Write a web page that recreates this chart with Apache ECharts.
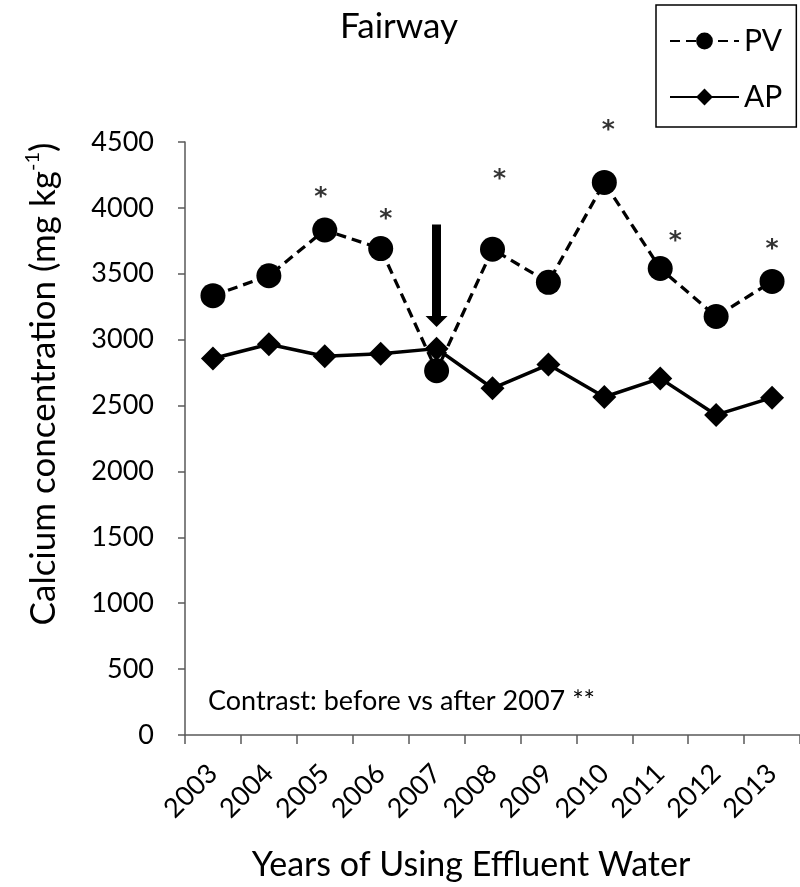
<!DOCTYPE html>
<html>
<head>
<meta charset="utf-8">
<title>Fairway</title>
<script src="https://cdn.jsdelivr.net/npm/echarts@6/dist/echarts.min.js"></script>
<style>
  html, body { margin: 0; padding: 0; background: #ffffff; }
  #chart { width: 800px; height: 887px; }
</style>
</head>
<body>
<div id="chart"></div>
<script>
// Calcium concentration in fairway soil, by year of effluent-water use
const years = ['2003','2004','2005','2006','2007','2008','2009','2010','2011','2012','2013'];
const pvValues = [3334, 3485, 3832, 3691, 2764, 3686, 3435, 4193, 3540, 3176, 3442];
const apValues = [2857, 2965, 2874, 2894, 2932, 2631, 2811, 2565, 2706, 2429, 2560];
const yTicks = [0, 500, 1000, 1500, 2000, 2500, 3000, 3500, 4000, 4500];

// Significance markers (*) above PV: year and height in mg/kg
const starYears = ['2005', '2006', '2008', '2010', '2011', '2013'];
const starHeights = [4118, 3950, 4256, 4629, 3781, 3719];

// Start of effluent use: arrow from top value down to tip value at 2007
const arrowYear = '2007';
const arrowTop = 3874;
const arrowTip = 3096;

const FONT = 'Lato, "Open Sans", sans-serif';
const chart = echarts.init(document.getElementById('chart'), null, { renderer: 'canvas' });

// head is centred on the end point, so stop the line half a head short of the tip
const pxPerUnit = 597 / (yTicks[yTicks.length - 1] - yTicks[0]);
const headLen = 11;
const arrowEnd = arrowTip + (headLen / 2) / pxPerUnit;

// the asterisk glyph sits high in its line box, so nudge it down a little
const starOffsets = { '2005': [-4, 5], '2006': [5, 5], '2008': [7, 5], '2010': [4, 5], '2011': [15, 5], '2013': [0, 5] };

const option = {
  animation: false,
  backgroundColor: '#ffffff',
  title: {
    text: 'Fairway',
    left: 394,
    top: 4,
    textAlign: 'center',
    textStyle: { fontFamily: FONT, fontSize: 35, fontWeight: 'normal', color: '#000' }
  },
  legend: {
    data: ['PV', 'AP'],
    orient: 'vertical',
    left: 656,
    top: 5,
    padding: [21, 14, 15, 13],
    itemGap: 26,
    itemWidth: 69,
    itemHeight: 21,
    borderColor: '#000',
    borderWidth: 1.5,
    textStyle: { fontFamily: FONT, fontSize: 30, color: '#000', lineHeight: 30 }
  },
  grid: { left: 185, top: 142, width: 616, height: 597, containLabel: false },
  xAxis: {
    type: 'category',
    data: years,
    boundaryGap: true,
    name: 'Years of Using Effluent Water',
    nameLocation: 'middle',
    nameGap: 113,
    nameTextStyle: { fontFamily: FONT, fontSize: 34, color: '#000', padding: [0, 43, 0, 0] },
    axisLine: { lineStyle: { color: '#595959', width: 1.5 } },
    axisTick: { show: true, inside: false, length: 9, alignWithLabel: false, lineStyle: { color: '#595959', width: 1.5 } },
    axisLabel: {
      interval: 0, rotate: 45, margin: 34,
      padding: [43, 0, 0, 0],
      fontFamily: FONT, fontSize: 27, color: '#000'
    },
    splitLine: { show: false }
  },
  yAxis: {
    type: 'value',
    min: yTicks[0],
    max: yTicks[yTicks.length - 1],
    interval: yTicks[1] - yTicks[0],
    axisLine: { show: true, lineStyle: { color: '#595959', width: 1.5 } },
    axisTick: { show: true, inside: false, length: 7, lineStyle: { color: '#595959', width: 1.5 } },
    axisLabel: {
      margin: 31, fontFamily: FONT, fontSize: 27, color: '#000',
      formatter: v => String(v)
    },
    splitLine: { show: false }
  },
  graphic: [
    {
      type: 'text',
      x: 42,
      y: 384,
      rotation: Math.PI / 2,
      style: {
        text: '{t|Calcium concentration (mg kg}{s|-1}{t|)}',
        rich: {
          t: { fontFamily: FONT, fontSize: 35, fill: '#000', verticalAlign: 'bottom' },
          s: { fontFamily: FONT, fontSize: 20, fill: '#000', verticalAlign: 'top', padding: [0, 0, 18, 0] }
        },
        align: 'center',
        verticalAlign: 'middle'
      }
    },
    {
      type: 'text',
      left: 208,
      top: 688,
      style: {
        text: 'Contrast: before vs after 2007 **',
        fontFamily: FONT, fontSize: 27, fill: '#000'
      }
    }
  ],
  series: [
    {
      name: 'PV',
      type: 'line',
      data: pvValues,
      symbol: 'circle',
      symbolSize: 25,
      itemStyle: { color: '#000' },
      lineStyle: { color: '#000', width: 3.3, type: [10, 6] },
      z: 3,
      markLine: {
        silent: true,
        symbol: ['none', 'triangle'],
        label: { show: false },
        lineStyle: { color: '#000', width: 9, type: 'solid' },
        data: [[
          { coord: [arrowYear, arrowTop], symbol: 'none' },
          { coord: [arrowYear, arrowEnd], symbol: 'triangle', symbolSize: [22, headLen] }
        ]]
      }
    },
    {
      name: 'AP',
      type: 'line',
      data: apValues,
      symbol: 'diamond',
      symbolSize: 24,
      itemStyle: { color: '#000' },
      lineStyle: { color: '#000', width: 3.5, type: 'solid' },
      z: 4
    },
    {
      name: 'significance',
      type: 'scatter',
      clip: false,
      silent: true,
      symbolSize: 1,
      itemStyle: { color: 'rgba(0,0,0,0)' },
      data: starYears.map((y, i) => ({
        value: [y, starHeights[i]],
        label: { offset: starOffsets[y] || [0, 0] }
      })),
      label: {
        show: true,
        position: 'inside',
        formatter: '*',
        fontFamily: '"DejaVu Sans", sans-serif',
        fontWeight: 'bold',
        fontSize: 25,
        color: '#000',
        padding: [18, 0, 0, 0]
      }
    }
  ]
};

chart.setOption(option);
</script>
</body>
</html>
